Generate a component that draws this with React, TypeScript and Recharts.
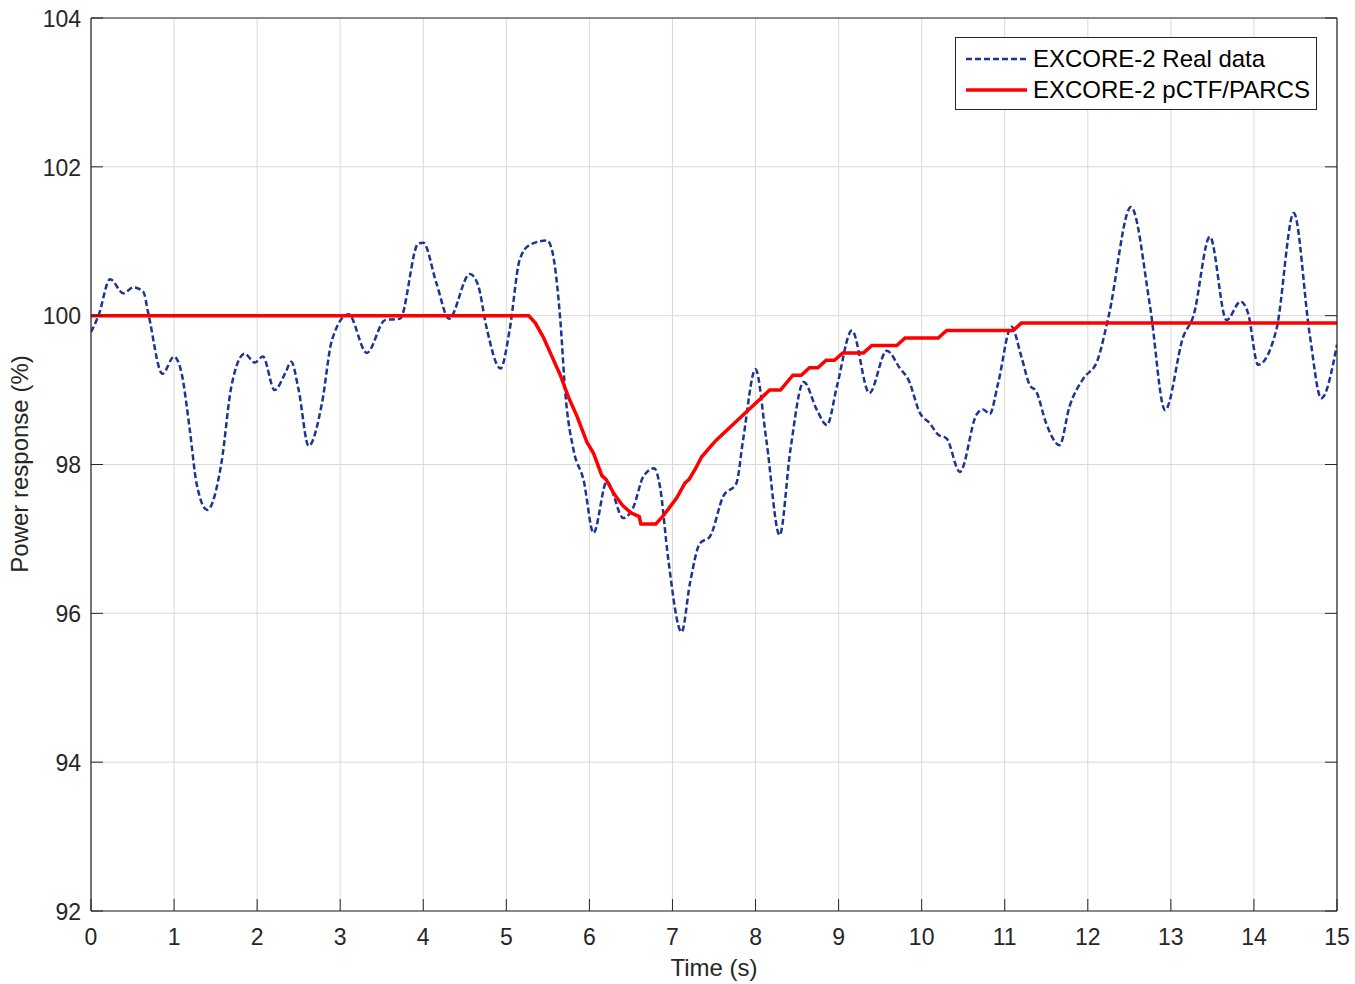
import { LineChart, Line, XAxis, YAxis, CartesianGrid } from 'recharts';

// Measured EXCORE-2 power signal vs. pCTF/PARCS simulation
const X_TICKS = [0, 1, 2, 3, 4, 5, 6, 7, 8, 9, 10, 11, 12, 13, 14, 15];
const Y_TICKS = [92, 94, 96, 98, 100, 102, 104];

const realTime = [
  0, 0.09, 0.23, 0.39, 0.51, 0.63, 0.69, 0.86, 1.0, 1.09, 1.19, 1.27, 1.4, 1.57, 1.69, 1.85,
  1.97, 2.07, 2.21, 2.34, 2.41, 2.5, 2.62, 2.78, 2.9, 3.1, 3.32, 3.54, 3.72, 3.94, 4.0, 4.16,
  4.31, 4.56, 4.66, 4.76, 4.93, 5.04, 5.16, 5.28, 5.49, 5.55, 5.65, 5.71, 5.81, 5.93, 6.05, 6.21,
  6.41, 6.53, 6.65, 6.78, 6.85, 6.95, 7.11, 7.21, 7.33, 7.45, 7.61, 7.77, 7.85, 8.0, 8.13, 8.29,
  8.42, 8.58, 8.74, 8.86, 8.98, 9.16, 9.37, 9.58, 9.74, 9.84, 9.98, 10.1, 10.2, 10.3, 10.46, 10.66,
  10.74, 10.82, 10.92, 11.08, 11.2, 11.3, 11.38, 11.5, 11.66, 11.78, 11.95, 12.11, 12.25, 12.52, 12.75, 12.93,
  13.15, 13.27, 13.47, 13.67, 13.84, 13.93, 14.05, 14.27, 14.48, 14.67, 14.81, 15.0,
];
const realPower = [
  99.78, 100.0, 100.49, 100.3, 100.38, 100.32, 100.03, 99.22, 99.45, 99.23, 98.46, 97.75, 97.39, 98.02, 99.05, 99.49,
  99.37, 99.45, 99.0, 99.23, 99.38, 99.0, 98.25, 98.82, 99.67, 100.02, 99.5, 99.94, 99.96, 100.97, 100.98, 100.43,
  99.96, 100.56, 100.41, 99.85, 99.29, 99.81, 100.75, 100.95, 101.01, 100.88, 99.94, 98.96, 98.19, 97.79, 97.08, 97.77,
  97.28, 97.43, 97.84, 97.95, 97.7, 96.72, 95.75, 96.4, 96.94, 97.03, 97.57, 97.75, 98.33, 99.28, 98.33, 97.05,
  98.2, 99.11, 98.73, 98.53, 99.05, 99.8, 98.96, 99.53, 99.29, 99.14, 98.69, 98.55, 98.4, 98.35, 97.9, 98.67,
  98.74, 98.68, 99.09, 99.85, 99.45, 99.07, 98.98, 98.55, 98.26, 98.78, 99.16, 99.38, 99.99, 101.46, 100.12, 98.73,
  99.72, 99.99, 101.06, 99.94, 100.19, 100.03, 99.34, 99.81, 101.38, 99.76, 98.89, 99.61,
];

const simTime = [
  0, 5.27, 5.35, 5.45, 5.55, 5.65, 5.75, 5.85, 5.97, 6.05, 6.15, 6.2, 6.3, 6.4, 6.5, 6.6,
  6.62, 6.8, 6.88, 6.95, 7.05, 7.15, 7.2, 7.28, 7.35, 7.45, 7.53, 8.17, 8.3, 8.45, 8.55, 8.65,
  8.75, 8.85, 8.95, 9.05, 9.3, 9.4, 9.7, 9.8, 10.2, 10.3, 11.1, 11.2, 15.0,
];
const simPower = [
  100, 100, 99.9, 99.7, 99.45, 99.2, 98.9, 98.65, 98.3, 98.15, 97.85, 97.8, 97.6, 97.45, 97.35, 97.3,
  97.2, 97.2, 97.3, 97.4, 97.55, 97.75, 97.8, 97.95, 98.1, 98.23, 98.33, 99.0, 99.0, 99.2, 99.2, 99.3,
  99.3, 99.4, 99.4, 99.5, 99.5, 99.6, 99.6, 99.7, 99.7, 99.8, 99.8, 99.9, 99.9,
];

const SERIES_NAMES = ['EXCORE-2 Real data', 'EXCORE-2 pCTF/PARCS'];

const realData = realTime.map((t, i) => ({ t, v: realPower[i] }));
const simData = simTime.map((t, i) => ({ t, v: simPower[i] }));

const FONT = '"Liberation Sans", Arial, Helvetica, sans-serif';
const INK = '#262626';
const BLUE = '#1c3592';
const RED = '#ff0000';
const TICK_LEN = 12;

const BottomTick = (props: any) => {
  const { x, y, payload } = props;
  const axisY = y - 17;
  return (
    <g>
      <line x1={x} y1={axisY} x2={x} y2={axisY - TICK_LEN} stroke={INK} strokeWidth={1} />
      <text x={x} y={y + 16.5} textAnchor="middle" fontSize={23} fontFamily={FONT} fill={INK}>
        {payload.value}
      </text>
    </g>
  );
};

const LeftTick = (props: any) => {
  const { x, y, payload } = props;
  const axisX = x + 10;
  return (
    <g>
      <line x1={axisX} y1={y} x2={axisX + TICK_LEN} y2={y} stroke={INK} strokeWidth={1} />
      <text x={x} y={y + 8.8} textAnchor="end" fontSize={23} fontFamily={FONT} fill={INK}>
        {payload.value}
      </text>
    </g>
  );
};

const TopTick = (props: any) => {
  const { x, y } = props;
  return <line x1={x} y1={y} x2={x} y2={y + TICK_LEN} stroke={INK} strokeWidth={1} />;
};

const RightTick = (props: any) => {
  const { x, y } = props;
  return <line x1={x} y1={y} x2={x - TICK_LEN} y2={y} stroke={INK} strokeWidth={1} />;
};

const LegendBox = () => (
  <div
    style={{
      position: 'absolute',
      left: 955,
      top: 37,
      width: 362,
      height: 73,
      border: `1px solid ${INK}`,
      background: '#fff',
      boxSizing: 'border-box',
    }}
  >
    <svg width={362} height={73} style={{ position: 'absolute', left: -1, top: -1 }}>
      <line x1={11} y1={22} x2={72} y2={22} stroke={BLUE} strokeWidth={2.5} strokeDasharray="6 3" />
      <line x1={11} y1={53} x2={72} y2={53} stroke={RED} strokeWidth={3.5} />
      <text x={78} y={30} fontSize={24} fontFamily={FONT} fill="#000">{SERIES_NAMES[0]}</text>
      <text x={78} y={61} fontSize={24} fontFamily={FONT} fill="#000">{SERIES_NAMES[1]}</text>
    </svg>
  </div>
);

export default function App() {
  return (
    <div style={{ position: 'absolute', left: 0, top: 0, width: 1355, height: 984, background: '#fff' }}>
      <LineChart width={1355} height={984} margin={{ top: 0, right: 0, bottom: 0, left: 0 }}>
        <CartesianGrid stroke="#d9d9d9" strokeWidth={1} />
        <XAxis
          type="number"
          dataKey="t"
          domain={[0, 15]}
          ticks={X_TICKS}
          interval={0}
          allowDataOverflow
          height={73}
          tickSize={0}
          tickLine={false}
          tickMargin={17}
          axisLine={{ stroke: INK, strokeWidth: 1.2 }}
          tick={(p: any) => <BottomTick {...p} />}
          label={{
            content: () => (
              <text x={714} y={976} textAnchor="middle" fontSize={24} fontFamily={FONT} fill={INK}>
                Time (s)
              </text>
            ),
          }}
        />
        <XAxis
          xAxisId="top"
          orientation="top"
          type="number"
          domain={[0, 15]}
          ticks={X_TICKS}
          interval={0}
          allowDataOverflow
          height={18}
          tickSize={0}
          tickLine={false}
          tickMargin={0}
          axisLine={{ stroke: INK, strokeWidth: 1.2 }}
          tick={(p: any) => <TopTick {...p} />}
        />
        <YAxis
          type="number"
          domain={[92, 104]}
          ticks={Y_TICKS}
          interval={0}
          allowDataOverflow
          width={91}
          tickSize={0}
          tickLine={false}
          tickMargin={10}
          axisLine={{ stroke: INK, strokeWidth: 1.2 }}
          tick={(p: any) => <LeftTick {...p} />}
          label={{
            content: () => (
              <text
                x={28}
                y={464}
                transform="rotate(-90 28 464)"
                textAnchor="middle"
                fontSize={24}
                fontFamily={FONT}
                fill={INK}
              >
                Power response (%)
              </text>
            ),
          }}
        />
        <YAxis
          yAxisId="right"
          orientation="right"
          type="number"
          domain={[92, 104]}
          ticks={Y_TICKS}
          interval={0}
          allowDataOverflow
          width={18}
          tickSize={0}
          tickLine={false}
          tickMargin={0}
          axisLine={{ stroke: INK, strokeWidth: 1.2 }}
          tick={(p: any) => <RightTick {...p} />}
        />
        <Line
          data={realData}
          dataKey="v"
          name={SERIES_NAMES[0]}
          type="monotone"
          stroke={BLUE}
          strokeWidth={2.5}
          strokeDasharray="6 3"
          dot={false}
          isAnimationActive={false}
        />
        <Line
          data={simData}
          dataKey="v"
          name={SERIES_NAMES[1]}
          type="linear"
          stroke={RED}
          strokeWidth={3.5}
          dot={false}
          isAnimationActive={false}
        />
      </LineChart>
      <LegendBox />
    </div>
  );
}
